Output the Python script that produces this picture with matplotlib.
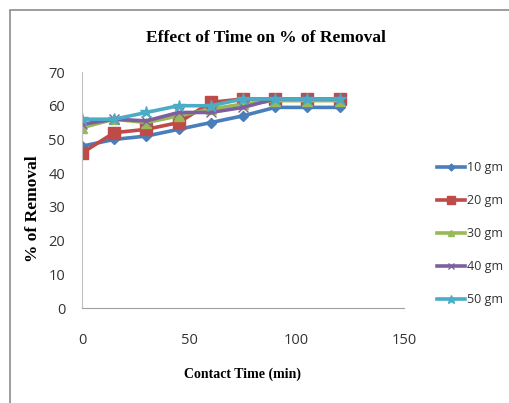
import matplotlib
matplotlib.use("Agg")
import matplotlib.pyplot as plt
from matplotlib.patches import Rectangle

time_min = [0, 15, 30, 45, 60, 75, 90, 105, 120]
s10 = [48, 50, 51, 53, 55, 57, 59.5, 59.5, 59.5]
s20 = [46, 52, 53, 55, 61, 62, 62, 62, 62]
s30 = [53.5, 56, 55, 57, 59, 60.5, 61.5, 61.5, 61.5]
s40 = [54.5, 56, 55.5, 58, 58, 59.5, 62, 62, 62]
s50 = [56, 56, 58, 60, 60, 62, 62, 62, 62]
labels = ["10 gm", "20 gm", "30 gm", "40 gm", "50 gm"]
x_ticks = [0, 50, 100, 150]
y_ticks = [0, 10, 20, 30, 40, 50, 60, 70]

series = [s10, s20, s30, s40, s50]
colors = ["#4A7EBB", "#BE4B48", "#98B954", "#7D5FA0", "#4BACC6"]
markers = ["D", "s", "^", "x", "*"]
msizes = [5, 8, 7, 7, 9]

W, H = 510, 403
fig = plt.figure(figsize=(W / 100, H / 100), dpi=100)
fig.patches.append(Rectangle((10 / W, -0.1), 1.2, (H - 10) / H + 0.1,
                             transform=fig.transFigure, fill=False,
                             edgecolor="#8c8c8c", linewidth=1.2))

ax = fig.add_axes([82 / W, (H - 308) / H, (404 - 82) / W, (308 - 72) / H])
for ys, c, m, ms, lab in zip(series, colors, markers, msizes, labels):
    ax.plot(time_min, ys, color=c, lw=2.6, marker=m, ms=ms, mew=1.0,
            mec=c, label=lab, solid_joinstyle="round")

ax.set_xlim(0, 150)
ax.set_ylim(0, 70)
ax.set_xticks(x_ticks)
ax.set_yticks(y_ticks)
ax.tick_params(length=0, labelsize=10.5, labelcolor="#333333")
ax.tick_params(axis="x", pad=18)
ax.tick_params(axis="y", pad=12)
for t in ax.get_xticklabels() + ax.get_yticklabels():
    t.set_family("Open Sans")
for s in ["top", "right"]:
    ax.spines[s].set_visible(False)
ax.spines["left"].set_color("#c0c0c0")
ax.spines["bottom"].set_color("#a0a0a0")
ax.spines["left"].set_linewidth(0.8)
ax.spines["bottom"].set_linewidth(0.8)

fig.text(266 / W, 1 - 38 / H, "Effect of Time on % of Removal", ha="center",
         va="center", family="Liberation Serif", weight="bold", fontsize=12.5)
fig.text(243 / W, 1 - 374 / H, "Contact Time (min)", ha="center", va="center",
         family="Liberation Serif", weight="bold", fontsize=10)
fig.text(33 / W, 1 - 209 / H, "% of Removal", ha="center", va="center",
         rotation=90, family="Liberation Serif", weight="bold", fontsize=12.5)

leg = fig.legend(loc="upper left", bbox_to_anchor=(426 / W, 1 - 150 / H),
                 frameon=False, prop={"family": "Open Sans", "size": 9},
                 labelspacing=1.6, handlelength=2.2, handletextpad=0.15,
                 markerscale=0.7)
for t in leg.get_texts():
    t.set_color("#333333")

fig.savefig("out.png", dpi=100)
